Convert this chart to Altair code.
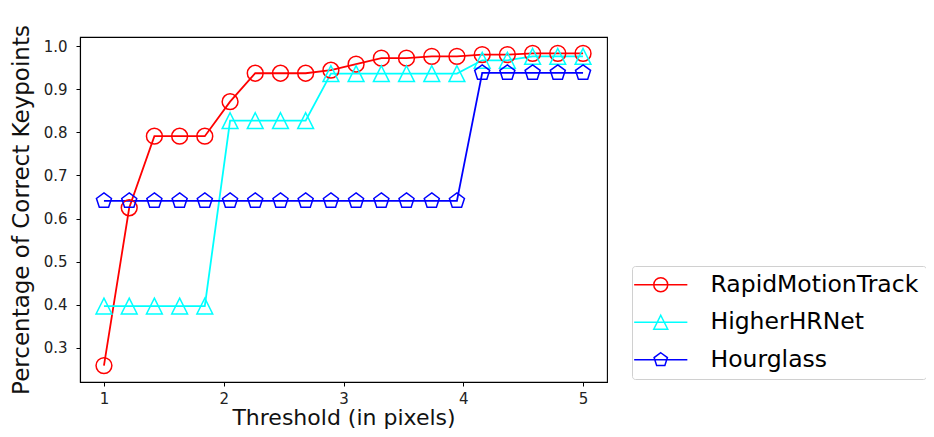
import altair as alt
import pandas as pd

thresholds = [1.0, 1.211, 1.421, 1.632, 1.842, 2.053, 2.263, 2.474, 2.684, 2.895,
              3.105, 3.316, 3.526, 3.737, 3.947, 4.158, 4.368, 4.579, 4.789, 5.0]
rapid = [0.259, 0.625, 0.791, 0.791, 0.791, 0.871, 0.937, 0.937, 0.937, 0.944,
         0.958, 0.972, 0.972, 0.976, 0.976, 0.980, 0.980, 0.983, 0.983, 0.983]
higher = [0.397, 0.397, 0.397, 0.397, 0.397, 0.827, 0.827, 0.827, 0.827, 0.936,
          0.936, 0.936, 0.936, 0.936, 0.936, 0.967, 0.967, 0.976, 0.976, 0.976]
hourglass = [0.641] * 15 + [0.938] * 5

series_names = ["RapidMotionTrack", "HigherHRNet", "Hourglass"]
series_colors = ["#ff0000", "#00ffff", "#0000ff"]
y_ticks = [0.3, 0.4, 0.5, 0.6, 0.7, 0.8, 0.9, 1.0]
x_ticks = [1, 2, 3, 4, 5]

rows = []
for name, vals in zip(series_names, [rapid, higher, hourglass]):
    for t, v in zip(thresholds, vals):
        rows.append({"x": t, "y": v, "series": name})
df = pd.DataFrame(rows)

circle = "M1,0 A1,1 0 1,1 -1,0 A1,1 0 1,1 1,0 Z"
tri = "M0,-1 L1,1 L-1,1 Z"
pent = "M0,-1 L0.951,-0.309 L0.588,0.809 L-0.588,0.809 L-0.951,-0.309 Z"
line_part = "M-3.8,0 L3.8,0 "
shapes = [circle, tri, pent]
legend_shapes = [line_part + s for s in shapes]

font = "DejaVu Sans"

x_enc = alt.X("x:Q", scale=alt.Scale(domain=[0.8, 5.2], nice=False, zero=False),
              axis=alt.Axis(values=x_ticks, format="d", title="Threshold (in pixels)",
                            titleY=42, titleBaseline="alphabetic", titleFontSize=22))
y_enc = alt.Y("y:Q", scale=alt.Scale(domain=[0.221, 1.021], nice=False, zero=False),
              axis=alt.Axis(values=y_ticks, format=".1f", title="Percentage of Correct Keypoints"))
color_enc = alt.Color("series:N", scale=alt.Scale(domain=series_names, range=series_colors), legend=None)

base = alt.Chart(df)
lines = base.mark_line(strokeWidth=1.8).encode(x=x_enc, y=y_enc, color=color_enc)
points = base.mark_point(filled=False, size=250, strokeWidth=1.5, opacity=1).encode(
    x=x_enc, y=y_enc, color=color_enc,
    shape=alt.Shape("series:N", scale=alt.Scale(domain=series_names, range=shapes), legend=None))

leg = alt.Legend(title=None, orient="none", legendX=552, legendY=229, padding=7,
                 symbolOffset=10, labelOffset=38, labelFontSize=23.5, labelFont=font,
                 labelColor="#000000", strokeColor="#d0d0d0", fillColor="white",
                 cornerRadius=3, rowPadding=12.5, symbolStrokeWidth=1.5, symbolSize=196,
                 labelLimit=1000)
legend_layer = base.transform_filter("false").mark_point(filled=False, strokeWidth=1.5, opacity=1).encode(
    color=alt.Color("series:N", scale=alt.Scale(domain=series_names, range=series_colors), legend=leg),
    shape=alt.Shape("series:N", scale=alt.Scale(domain=series_names, range=legend_shapes), legend=leg))

chart = alt.layer(lines, points, legend_layer).resolve_scale(
    color="independent", shape="independent"
).properties(
    width=527, height=345,
    autosize=alt.AutoSizeParams(type="none"),
    padding={"left": 72, "top": 29, "right": 319, "bottom": 47},
).configure_view(stroke="#000000", strokeWidth=1.1).configure_axis(
    grid=False, domainColor="#000000", domainWidth=1.1, tickColor="#000000", tickSize=4,
    labelFont=font, labelFontSize=15, labelColor="#222222", titleFont=font,
    titleFontSize=23, titleFontWeight="normal", titleColor="#111111",
).configure_axisY(labelPadding=9, titlePadding=10).configure_axisX(labelPadding=5)

chart.save("out.html", embed_options={"renderer": "svg", "actions": False})
